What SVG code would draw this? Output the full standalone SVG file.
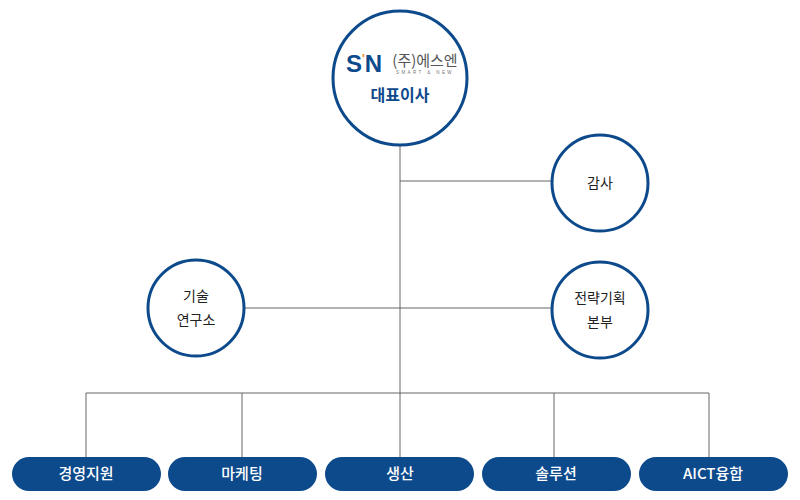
<svg xmlns="http://www.w3.org/2000/svg" width="800" height="500" viewBox="0 0 800 500">
<style>
.c{fill:#fff;stroke:#0d4a8c;stroke-width:3}
.t{font-family:"Noto Sans CJK KR","Noto Sans",sans-serif;font-size:14px;fill:#222;text-anchor:middle}
.p{fill:#0d4a8c}
.pt{font-family:"Noto Sans CJK KR","Noto Sans",sans-serif;font-size:15px;fill:#fff;text-anchor:middle;font-weight:500}
.l{stroke:#666;stroke-width:1;fill:none}
</style>
<rect width="800" height="500" fill="#fff"/>
<g id="connectors" class="l">
<path d="M400 146V393M400 181H552M244 308H552M86 457V393H709V457M242 393V457M400 393V457M554 393V457"/>
</g>
<g id="ceo">
<circle class="c" cx="400" cy="78" r="67"/>
<text x="364" y="72" font-family="Liberation Sans,sans-serif" font-weight="bold" font-size="24" fill="#0d4a8c" text-anchor="middle">S<tspan fill="#f08a1c" font-size="12" dy="-9">'</tspan><tspan dy="9">N</tspan></text>
<text x="425" y="66" font-family="Noto Sans CJK KR,sans-serif" font-size="15" fill="#555" text-anchor="middle">(주)에스엔</text>
<text x="425" y="74" font-family="Liberation Sans,sans-serif" font-size="4.5" fill="#777" text-anchor="middle" letter-spacing="2.4">SMART &amp; NEW</text>
<text x="400" y="101" class="t" style="fill:#0d4a8c;font-size:16px;font-weight:bold">대표이사</text>
</g>
<g id="audit"><circle class="c" cx="600" cy="183" r="48"/><text class="t" x="600" y="188">감사</text></g>
<g id="rnd"><circle class="c" cx="196" cy="308" r="48"/><text class="t" x="196" y="301">기술</text><text class="t" x="196" y="325">연구소</text></g>
<g id="strategy"><circle class="c" cx="600" cy="310" r="48"/><text class="t" x="600" y="303">전략기획</text><text class="t" x="600" y="327">본부</text></g>
<g id="d1"><rect class="p" x="12" y="457" width="149" height="34" rx="17"/><text class="pt" x="86" y="479">경영지원</text></g>
<g id="d2"><rect class="p" x="168" y="457" width="149" height="34" rx="17"/><text class="pt" x="242" y="479">마케팅</text></g>
<g id="d3"><rect class="p" x="325" y="457" width="149" height="34" rx="17"/><text class="pt" x="400" y="479">생산</text></g>
<g id="d4"><rect class="p" x="482" y="457" width="149" height="34" rx="17"/><text class="pt" x="556" y="479">솔루션</text></g>
<g id="d5"><rect class="p" x="639" y="457" width="149" height="34" rx="17"/><text class="pt" x="713" y="479">AICT융합</text></g>
</svg>
